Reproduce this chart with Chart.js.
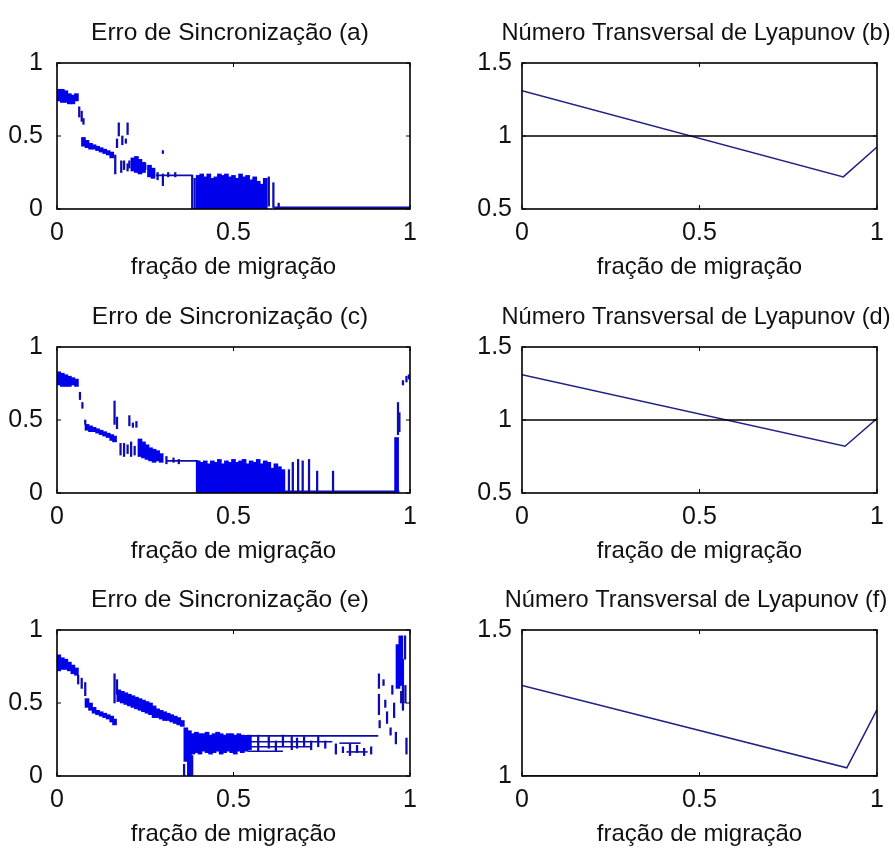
<!DOCTYPE html>
<html>
<head>
<meta charset="utf-8">
<title>Erro de Sincronização / Número Transversal de Lyapunov</title>
<script src="https://cdn.jsdelivr.net/npm/chart.js@4.4.1/dist/chart.umd.min.js"></script>
<style>
  html, body { margin: 0; padding: 0; background: #fff; }
  #page { position: relative; width: 895px; height: 855px; overflow: hidden; }
  canvas { position: absolute; }
</style>
</head>
<body>
<div id="page">
  <canvas id="chart-a" width="460" height="284" style="left:0;top:0"></canvas>
  <canvas id="chart-b" width="452" height="284" style="left:470px;top:0"></canvas>
  <canvas id="chart-c" width="460" height="284" style="left:0;top:284px"></canvas>
  <canvas id="chart-d" width="452" height="284" style="left:470px;top:284px"></canvas>
  <canvas id="chart-e" width="460" height="284" style="left:0;top:567px"></canvas>
  <canvas id="chart-f" width="452" height="284" style="left:470px;top:567px"></canvas>
</div>
<script>
// ticks
const xTicks = [0, 0.5, 1];
const erroTicks = [0, 0.5, 1];
const lyapTicks = [0.5, 1, 1.5];
const lyapTicksF = [1, 1.5];

// (a) erro de sincronizacao - faixas densas, tracos finos e trechos horizontais
const aBlockX = [0.005,0.015,0.025,0.035,0.045,0.055, 0.075,0.085,0.095,0.105,0.115,0.125,0.135,0.145,0.155, 0.215,0.225,0.235,0.245,0.262,0.272, 0.40,0.41,0.42,0.43,0.44,0.45,0.46,0.47,0.48,0.49,0.50,0.51,0.52,0.53,0.54,0.55,0.56,0.57,0.58,0.59];
const aBlockLo = [0.74,0.73,0.73,0.72,0.72,0.74, 0.43,0.42,0.41,0.41,0.40,0.39,0.38,0.37,0.35, 0.26,0.25,0.24,0.25,0.22,0.21, 0,0,0,0,0,0,0,0,0,0,0,0,0,0,0,0,0,0,0,0];
const aBlockHi = [0.82,0.82,0.81,0.79,0.78,0.79, 0.49,0.47,0.45,0.44,0.43,0.42,0.41,0.40,0.39, 0.35,0.36,0.34,0.32,0.30,0.28, 0.23,0.24,0.22,0.24,0.21,0.22,0.24,0.23,0.24,0.22,0.23,0.21,0.24,0.22,0.23,0.20,0.22,0.19,0.17,0.21];
const aDashX = [0.063,0.07,0.075, 0.17,0.175,0.185,0.195,0.20, 0.165,0.182,0.19,0.20,0.205,0.25,0.285,0.30,0.30,0.315,0.335, 0.383,0.39,0.60,0.613,0.628];
const aDashLo = [0.63,0.60,0.58, 0.42,0.50,0.44,0.45,0.51, 0.24,0.25,0.27,0.26,0.28,0.27,0.20,0.16,0.38,0.22,0.22, 0,0,0.02,0.01,0.01];
const aDashHi = [0.70,0.67,0.62, 0.48,0.59,0.50,0.48,0.59, 0.37,0.33,0.33,0.31,0.33,0.31,0.25,0.24,0.40,0.25,0.25, 0.23,0.21,0.22,0.18,0.04];
const aFlatX0 = [0.28, 0.615];
const aFlatX1 = [0.385, 1];
const aFlatY = [0.23, 0.006];

// (c)
const cBlockX = [0.005,0.015,0.025,0.035,0.045,0.055, 0.085,0.095,0.105,0.115,0.125,0.135,0.145,0.155,0.163, 0.235,0.245,0.255,0.265,0.275,0.285,0.295, 0.40,0.41,0.42,0.43,0.44,0.45,0.46,0.47,0.48,0.49,0.50,0.51,0.52,0.53,0.54,0.55,0.56,0.57,0.58,0.59,0.60,0.61,0.62,0.63,0.64, 0.962];
const cBlockLo = [0.74,0.73,0.73,0.73,0.74,0.73, 0.43,0.42,0.42,0.41,0.40,0.39,0.38,0.36,0.35, 0.25,0.24,0.23,0.22,0.21,0.22,0.21, 0,0,0,0,0,0,0,0,0,0,0,0,0,0,0,0,0,0,0,0,0,0,0,0,0, 0];
const cBlockHi = [0.83,0.82,0.81,0.80,0.79,0.78, 0.47,0.46,0.45,0.44,0.43,0.42,0.41,0.40,0.39, 0.37,0.35,0.33,0.31,0.30,0.29,0.27, 0.22,0.21,0.22,0.20,0.22,0.21,0.23,0.20,0.22,0.21,0.23,0.21,0.22,0.23,0.20,0.22,0.21,0.23,0.20,0.22,0.21,0.17,0.20,0.18,0.16, 0.38];
const cDashX = [0.065,0.072,0.08, 0.163,0.17,0.205,0.215,0.225, 0.18,0.19,0.20,0.21,0.22,0.31,0.33,0.345, 0.657,0.668,0.683,0.696,0.714,0.737,0.782, 0.966,0.97,0.98,0.99,0.997];
const cDashLo = [0.64,0.58,0.47, 0.47,0.44,0.46,0.45,0.45, 0.26,0.25,0.27,0.25,0.26,0.20,0.21,0.20, 0,0,0,0,0,0,0, 0.40,0.42,0.74,0.76,0.78];
const cDashHi = [0.69,0.62,0.50, 0.63,0.52,0.53,0.48,0.49, 0.34,0.34,0.33,0.35,0.32,0.25,0.24,0.23, 0.16,0.21,0.23,0.22,0.23,0.15,0.15, 0.62,0.55,0.77,0.80,0.81];
const cFlatX0 = [0.31, 0.64];
const cFlatX1 = [0.40, 0.97];
const cFlatY = [0.22, 0.006];

// (e)
const eBlockX = [0.005,0.015,0.025,0.035,0.045,0.055, 0.085,0.095,0.105,0.115,0.125,0.135,0.145,0.155,0.163, 0.175,0.185,0.195,0.205,0.215,0.225,0.235,0.245,0.255,0.265,0.275, 0.285,0.295,0.305,0.315,0.325,0.335,0.345,0.355, 0.365,0.375, 0.385,0.395,0.405,0.415,0.425,0.435,0.445,0.455,0.465,0.475,0.485,0.495,0.505,0.515,0.525,0.535,0.545, 0.966,0.974];
const eBlockLo = [0.72,0.73,0.73,0.72,0.70,0.69, 0.47,0.45,0.43,0.42,0.41,0.40,0.39,0.37,0.35, 0.51,0.50,0.49,0.48,0.47,0.46,0.45,0.44,0.43,0.42,0.40, 0.40,0.39,0.38,0.38,0.37,0.36,0.35,0.34, 0.10,0.00, 0.15,0.16,0.15,0.17,0.16,0.15,0.16,0.17,0.15,0.16,0.17,0.16,0.15,0.17,0.16,0.17,0.18, 0.60,0.62];
const eBlockHi = [0.83,0.81,0.80,0.78,0.76,0.74, 0.53,0.50,0.47,0.45,0.44,0.43,0.42,0.41,0.39, 0.59,0.58,0.57,0.56,0.55,0.54,0.53,0.52,0.51,0.50,0.48, 0.46,0.45,0.44,0.43,0.42,0.41,0.40,0.38, 0.33,0.31, 0.29,0.30,0.29,0.29,0.30,0.28,0.29,0.30,0.29,0.28,0.29,0.29,0.28,0.29,0.28,0.27,0.28, 0.90,0.96];
const eDashX = [0.06,0.07,0.08, 0.163,0.17, 0.36,0.383, 0.57,0.60,0.62,0.64,0.665,0.68,0.70,0.72,0.74,0.76,0.79,0.81,0.83,0.85,0.87,0.89, 0.912,0.912,0.914,0.925,0.93,0.935,0.945,0.95,0.955,0.96,0.975,0.98,0.986,0.987,0.99];
const eDashLo = [0.63,0.60,0.55, 0.50,0.56, 0.00,0.00, 0.17,0.19,0.17,0.20,0.18,0.19,0.20,0.18,0.20,0.19,0.15,0.16,0.14,0.16,0.14,0.15, 0.60,0.42,0.33,0.62,0.47,0.36,0.28,0.56,0.40,0.22,0.50,0.45,0.80,0.50,0.15];
const eDashHi = [0.69,0.67,0.64, 0.70,0.66, 0.08,0.14, 0.28,0.27,0.24,0.28,0.27,0.26,0.27,0.24,0.27,0.24,0.22,0.20,0.22,0.21,0.19,0.20, 0.70,0.56,0.38,0.66,0.52,0.44,0.33,0.62,0.50,0.30,0.58,0.80,0.96,0.62,0.26];
const eFlatX0 = [0.36, 0.54, 0.54, 0.54, 0.80, 0.82];
const eFlatX1 = [0.91, 0.78, 0.72, 0.64, 0.86, 0.88];
const eFlatY = [0.275, 0.235, 0.20, 0.17, 0.225, 0.165];

// (b), (d), (f) numero transversal de Lyapunov
const bX = [0, 0.905, 1];
const bY = [1.31, 0.72, 0.925];
const dX = [0, 0.91, 1];
const dY = [1.31, 0.82, 1.01];
const fX = [0, 0.915, 1];
const fY = [1.31, 1.028, 1.227];
const threshold = 1;

const FONT = "'Liberation Sans', Arial, Helvetica, sans-serif";
const BLUE = 'rgb(0,0,235)';
const DASH_BLUE = 'rgb(12,12,175)';
const LINE_BLUE = 'rgb(32,32,135)';
const INK = '#111';

// moldura estilo matlab com ticks para dentro
const frame = {
    id: 'frame',
    afterDatasetsDraw(chart) {
        const ctx = chart.ctx, a = chart.chartArea;
        const x = chart.scales.x, y = chart.scales.y;
        ctx.save();
        ctx.strokeStyle = '#000';
        ctx.lineWidth = 1.6;
        ctx.strokeRect(a.left, a.top, a.right - a.left, a.bottom - a.top);
        ctx.lineWidth = 1;
        ctx.beginPath();
        x.ticks.forEach(function (t) {
            const px = x.getPixelForValue(t.value);
            ctx.moveTo(px, a.bottom); ctx.lineTo(px, a.bottom - 4);
            ctx.moveTo(px, a.top); ctx.lineTo(px, a.top + 4);
        });
        y.ticks.forEach(function (t) {
            const py = y.getPixelForValue(t.value);
            ctx.moveTo(a.left, py); ctx.lineTo(a.left + 4, py);
            ctx.moveTo(a.right, py); ctx.lineTo(a.right - 4, py);
        });
        ctx.stroke();
        ctx.restore();
    }
};

function plainLabel(value) {
    return String(value);
}

function makeScales(yMin, yMax, yTicks, leftWidth, rightWidth, labelPad) {
    return {
        x: {
            type: 'linear', min: 0, max: 1, offset: false,
            afterBuildTicks: function (s) { s.ticks = xTicks.map(function (v) { return {value: v}; }); },
            afterFit: function (s) { s.height = 75; },
            ticks: {color: INK, font: {family: FONT, size: 25}, padding: 9, maxRotation: 0, callback: plainLabel},
            grid: {display: false, drawTicks: false},
            border: {display: false},
            title: {display: true, text: 'fração de migração', color: INK, font: {family: FONT, size: 24}, padding: {top: 0, bottom: 2}}
        },
        y: {
            type: 'linear', min: yMin, max: yMax,
            afterBuildTicks: function (s) { s.ticks = yTicks.map(function (v) { return {value: v}; }); },
            afterFit: function (s) { s.width = leftWidth; },
            ticks: {color: INK, font: {family: FONT, size: 25}, padding: labelPad, callback: plainLabel},
            grid: {display: false, drawTicks: false},
            border: {display: false}
        },
        yR: {
            position: 'right', display: true,
            afterFit: function (s) { s.width = rightWidth; },
            ticks: {display: false},
            grid: {display: false, drawTicks: false},
            border: {display: false}
        }
    };
}

function baseOptions(title, titleSize, scales) {
    return {
        responsive: false,
        animation: false,
        events: [],
        layout: {padding: 0},
        plugins: {
            legend: {display: false},
            tooltip: {enabled: false},
            title: {
                display: true, text: title, color: INK,
                font: {family: FONT, size: titleSize, weight: 'normal'},
                padding: {top: 19, bottom: 44 - titleSize * 1.2}
            }
        },
        scales: scales
    };
}

function bars(xs, lo, hi, thickness, color) {
    return {
        type: 'bar',
        data: xs.map(function (x, i) { return {x: x, y: [lo[i], hi[i]]}; }),
        backgroundColor: color,
        barThickness: thickness,
        grouped: false,
        borderWidth: 0
    };
}

function flats(x0, x1, ys, color) {
    return ys.map(function (y, i) {
        return {
            type: 'line',
            data: [{x: x0[i], y: y}, {x: x1[i], y: y}],
            borderColor: color,
            borderWidth: y < 0.01 ? 3 : 1.6,
            pointRadius: 0
        };
    });
}

function erroChart(id, title, blockX, blockLo, blockHi, dashX, dashLo, dashHi, flatX0, flatX1, flatY) {
    const ctx = document.getElementById(id).getContext('2d');
    return new Chart(ctx, {
        type: 'bar',
        data: {
            datasets: [bars(blockX, blockLo, blockHi, 4, BLUE), bars(dashX, dashLo, dashHi, 1.6, DASH_BLUE)]
                .concat(flats(flatX0, flatX1, flatY, DASH_BLUE))
        },
        options: baseOptions(title, 24.5, makeScales(0, 1, erroTicks, 57, 50, 14)),
        plugins: [frame]
    });
}

function lyapChart(id, title, xs, ys, yMin, yTicks) {
    const ctx = document.getElementById(id).getContext('2d');
    return new Chart(ctx, {
        type: 'line',
        data: {
            datasets: [{
                data: [{x: 0, y: threshold}, {x: 1, y: threshold}],
                borderColor: '#000', borderWidth: 1.5, pointRadius: 0
            }, {
                data: xs.map(function (x, i) { return {x: x, y: ys[i]}; }),
                borderColor: LINE_BLUE, borderWidth: 1.5, pointRadius: 0, tension: 0
            }]
        },
        options: baseOptions(title, 23.6, makeScales(yMin, 1.5, yTicks, 52, 45, 10)),
        plugins: [frame]
    });
}

erroChart('chart-a', 'Erro de Sincronização (a)', aBlockX, aBlockLo, aBlockHi, aDashX, aDashLo, aDashHi, aFlatX0, aFlatX1, aFlatY);
erroChart('chart-c', 'Erro de Sincronização (c)', cBlockX, cBlockLo, cBlockHi, cDashX, cDashLo, cDashHi, cFlatX0, cFlatX1, cFlatY);
erroChart('chart-e', 'Erro de Sincronização (e)', eBlockX, eBlockLo, eBlockHi, eDashX, eDashLo, eDashHi, eFlatX0, eFlatX1, eFlatY);
lyapChart('chart-b', 'Número Transversal de Lyapunov (b)', bX, bY, 0.5, lyapTicks);
lyapChart('chart-d', 'Número Transversal de Lyapunov (d)', dX, dY, 0.5, lyapTicks);
lyapChart('chart-f', 'Número Transversal de Lyapunov (f)', fX, fY, 1, lyapTicksF);
</script>
</body>
</html>
